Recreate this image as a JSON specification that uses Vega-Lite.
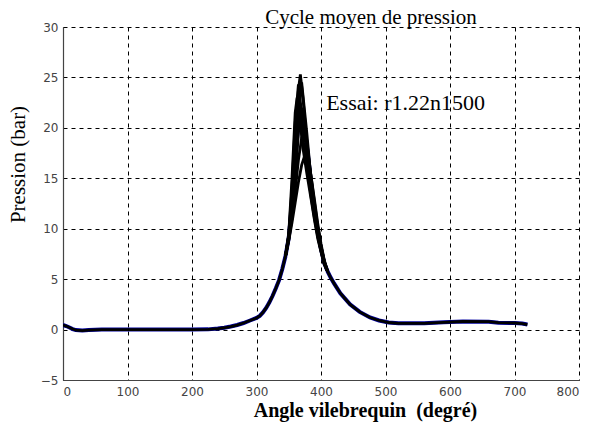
{
  "$schema": "https://vega.github.io/schema/vega-lite/v6.json",
  "width": 516,
  "height": 353,
  "autosize": {"type": "none"},
  "padding": {"left": 63, "top": 27, "right": 14, "bottom": 45},
  "background": "white",
  "title": {"text": "Cycle moyen de pression", "font": "Liberation Serif", "fontSize": 21, "fontWeight": "normal", "color": "black", "anchor": "middle", "dx": 50, "offset": -7},
  "config": {
    "view": {"stroke": null},
    "axis": {"grid": true, "gridColor": "black", "gridDash": [4, 4], "gridOpacity": 1, "gridWidth": 1, "domainColor": "#444", "domainWidth": 1.2, "ticks": false, "labelFont": "DejaVu Sans", "labelFontSize": 12, "labelColor": "#444", "titleFont": "Liberation Serif", "titleFontSize": 21, "titleFontWeight": "normal", "titleColor": "black"}
  },
  "data": {"values": [
    {"s": "L", "a": 0, "p": 0.45}, {"s": "L", "a": 5, "p": 0.35}, {"s": "L", "a": 10, "p": 0.2}, {"s": "L", "a": 15, "p": 0.05}, {"s": "L", "a": 20, "p": -0.05}, {"s": "L", "a": 30, "p": -0.1}, {"s": "L", "a": 40, "p": -0.05}, {"s": "L", "a": 60, "p": 0}, {"s": "L", "a": 100, "p": 0}, {"s": "L", "a": 150, "p": 0}, {"s": "L", "a": 200, "p": 0}, {"s": "L", "a": 225, "p": 0.02}, {"s": "L", "a": 240, "p": 0.1}, {"s": "L", "a": 250, "p": 0.18}, {"s": "L", "a": 260, "p": 0.3}, {"s": "L", "a": 270, "p": 0.45}, {"s": "L", "a": 280, "p": 0.65}, {"s": "L", "a": 290, "p": 0.9}, {"s": "L", "a": 300, "p": 1.15}, {"s": "L", "a": 305, "p": 1.35}, {"s": "L", "a": 310, "p": 1.7}, {"s": "L", "a": 315, "p": 2.15}, {"s": "L", "a": 320, "p": 2.7}, {"s": "L", "a": 325, "p": 3.35}, {"s": "L", "a": 330, "p": 4.1}, {"s": "L", "a": 335, "p": 4.9}, {"s": "L", "a": 340, "p": 6.0}, {"s": "L", "a": 345, "p": 7.3},
    {"s": "R", "a": 410, "p": 5.8}, {"s": "R", "a": 415, "p": 5.15}, {"s": "R", "a": 420, "p": 4.6}, {"s": "R", "a": 430, "p": 3.6}, {"s": "R", "a": 445, "p": 2.5}, {"s": "R", "a": 460, "p": 1.75}, {"s": "R", "a": 476, "p": 1.2}, {"s": "R", "a": 490, "p": 0.9}, {"s": "R", "a": 505, "p": 0.7}, {"s": "R", "a": 520, "p": 0.62}, {"s": "R", "a": 560, "p": 0.62}, {"s": "R", "a": 590, "p": 0.72}, {"s": "R", "a": 620, "p": 0.8}, {"s": "R", "a": 660, "p": 0.78}, {"s": "R", "a": 675, "p": 0.68}, {"s": "R", "a": 700, "p": 0.65}, {"s": "R", "a": 712, "p": 0.6}, {"s": "R", "a": 720, "p": 0.5},
    {"s": "M", "a": 345, "p": 7.3}, {"s": "M", "a": 350, "p": 9.1}, {"s": "M", "a": 355, "p": 12.4}, {"s": "M", "a": 360, "p": 17}, {"s": "M", "a": 365, "p": 20.5}, {"s": "M", "a": 370, "p": 21.3}, {"s": "M", "a": 375, "p": 19.8}, {"s": "M", "a": 380, "p": 17.2}, {"s": "M", "a": 385, "p": 14.2}, {"s": "M", "a": 390, "p": 11.7}, {"s": "M", "a": 395, "p": 9.7}, {"s": "M", "a": 400, "p": 8}, {"s": "M", "a": 405, "p": 6.6}, {"s": "M", "a": 410, "p": 5.8},
    {"s": "C1", "a": 345, "p": 7.3}, {"s": "C1", "a": 350, "p": 9.2}, {"s": "C1", "a": 355, "p": 12.5}, {"s": "C1", "a": 360, "p": 18.5}, {"s": "C1", "a": 365, "p": 23.8}, {"s": "C1", "a": 368, "p": 25.3}, {"s": "C1", "a": 372, "p": 23}, {"s": "C1", "a": 376, "p": 20}, {"s": "C1", "a": 380, "p": 17}, {"s": "C1", "a": 385, "p": 14}, {"s": "C1", "a": 390, "p": 11.5}, {"s": "C1", "a": 395, "p": 9.5}, {"s": "C1", "a": 400, "p": 7.9}, {"s": "C1", "a": 405, "p": 6.6}, {"s": "C1", "a": 410, "p": 5.8},
    {"s": "C2", "a": 345, "p": 7.3}, {"s": "C2", "a": 350, "p": 9.4}, {"s": "C2", "a": 355, "p": 14}, {"s": "C2", "a": 360, "p": 20.5}, {"s": "C2", "a": 365, "p": 24.3}, {"s": "C2", "a": 369, "p": 22}, {"s": "C2", "a": 374, "p": 18.5}, {"s": "C2", "a": 380, "p": 15.5}, {"s": "C2", "a": 385, "p": 13}, {"s": "C2", "a": 390, "p": 11}, {"s": "C2", "a": 395, "p": 9.2}, {"s": "C2", "a": 400, "p": 7.8}, {"s": "C2", "a": 405, "p": 6.5}, {"s": "C2", "a": 410, "p": 5.8},
    {"s": "C3", "a": 345, "p": 7.3}, {"s": "C3", "a": 350, "p": 9.0}, {"s": "C3", "a": 355, "p": 11.5}, {"s": "C3", "a": 360, "p": 15}, {"s": "C3", "a": 365, "p": 19.5}, {"s": "C3", "a": 370, "p": 22}, {"s": "C3", "a": 375, "p": 20.5}, {"s": "C3", "a": 380, "p": 17.5}, {"s": "C3", "a": 385, "p": 14.5}, {"s": "C3", "a": 390, "p": 12}, {"s": "C3", "a": 395, "p": 9.8}, {"s": "C3", "a": 400, "p": 8.1}, {"s": "C3", "a": 405, "p": 6.7}, {"s": "C3", "a": 410, "p": 5.8},
    {"s": "C4", "a": 345, "p": 7.3}, {"s": "C4", "a": 350, "p": 8.9}, {"s": "C4", "a": 355, "p": 11}, {"s": "C4", "a": 360, "p": 13.8}, {"s": "C4", "a": 365, "p": 16.8}, {"s": "C4", "a": 370, "p": 19}, {"s": "C4", "a": 374, "p": 19.5}, {"s": "C4", "a": 378, "p": 18.5}, {"s": "C4", "a": 382, "p": 16.5}, {"s": "C4", "a": 388, "p": 13.5}, {"s": "C4", "a": 395, "p": 10.2}, {"s": "C4", "a": 400, "p": 8.3}, {"s": "C4", "a": 405, "p": 6.8}, {"s": "C4", "a": 410, "p": 5.8},
    {"s": "C5", "a": 345, "p": 7.3}, {"s": "C5", "a": 350, "p": 8.8}, {"s": "C5", "a": 355, "p": 10.6}, {"s": "C5", "a": 360, "p": 12.6}, {"s": "C5", "a": 365, "p": 14.6}, {"s": "C5", "a": 370, "p": 16.3}, {"s": "C5", "a": 376, "p": 17.5}, {"s": "C5", "a": 380, "p": 17}, {"s": "C5", "a": 385, "p": 15}, {"s": "C5", "a": 390, "p": 12.8}, {"s": "C5", "a": 395, "p": 10.5}, {"s": "C5", "a": 400, "p": 8.5}, {"s": "C5", "a": 405, "p": 6.9}, {"s": "C5", "a": 410, "p": 5.8},
    {"s": "C6", "a": 345, "p": 7.3}, {"s": "C6", "a": 350, "p": 9.5}, {"s": "C6", "a": 355, "p": 15}, {"s": "C6", "a": 360, "p": 21.5}, {"s": "C6", "a": 363, "p": 23}, {"s": "C6", "a": 367, "p": 21}, {"s": "C6", "a": 372, "p": 18}, {"s": "C6", "a": 378, "p": 15.5}, {"s": "C6", "a": 385, "p": 12.8}, {"s": "C6", "a": 390, "p": 10.8}, {"s": "C6", "a": 395, "p": 9}, {"s": "C6", "a": 400, "p": 7.7}, {"s": "C6", "a": 405, "p": 6.5}, {"s": "C6", "a": 410, "p": 5.8},
    {"s": "C7", "a": 345, "p": 7.3}, {"s": "C7", "a": 350, "p": 9.3}, {"s": "C7", "a": 355, "p": 13}, {"s": "C7", "a": 360, "p": 18}, {"s": "C7", "a": 365, "p": 21}, {"s": "C7", "a": 368, "p": 20.5}, {"s": "C7", "a": 373, "p": 18}, {"s": "C7", "a": 380, "p": 15.8}, {"s": "C7", "a": 385, "p": 13.5}, {"s": "C7", "a": 390, "p": 11.3}, {"s": "C7", "a": 395, "p": 9.4}, {"s": "C7", "a": 400, "p": 7.9}, {"s": "C7", "a": 405, "p": 6.6}, {"s": "C7", "a": 410, "p": 5.8},
    {"s": "C8", "a": 345, "p": 7.3}, {"s": "C8", "a": 350, "p": 9.1}, {"s": "C8", "a": 355, "p": 12}, {"s": "C8", "a": 360, "p": 16.5}, {"s": "C8", "a": 365, "p": 21.5}, {"s": "C8", "a": 370, "p": 24.5}, {"s": "C8", "a": 374, "p": 22}, {"s": "C8", "a": 378, "p": 19.5}, {"s": "C8", "a": 383, "p": 16}, {"s": "C8", "a": 388, "p": 13}, {"s": "C8", "a": 395, "p": 10}, {"s": "C8", "a": 400, "p": 8.2}, {"s": "C8", "a": 405, "p": 6.7}, {"s": "C8", "a": 410, "p": 5.8}
  ]},
  "encoding": {
    "x": {"field": "a", "type": "quantitative", "scale": {"domain": [0, 800], "nice": false}, "axis": {"values": [0, 100, 200, 300, 400, 500, 600, 700, 800], "title": "Angle vilebrequin\u00a0 (degré)", "titleFontWeight": "bold", "titleFontSize": 20, "titleX": 302, "titleY": 36.5, "titleAlign": "center", "titleBaseline": "alphabetic", "labelPadding": 6}},
    "y": {"field": "p", "type": "quantitative", "scale": {"domain": [-5, 30], "nice": false}, "axis": {"values": [-5, 0, 5, 10, 15, 20, 25, 30], "title": "Pression (bar)", "titleX": -45, "titleY": 137, "titleAlign": "center", "titleBaseline": "middle", "titleAngle": -90, "labelPadding": 5}}
  },
  "layer": [
    {"transform": [{"filter": {"field": "s", "oneOf": ["L", "R", "M"]}}], "mark": {"type": "line", "color": "#0000a0", "strokeWidth": 4, "clip": true}, "encoding": {"detail": {"field": "s"}, "order": {"field": "a"}}},
    {"transform": [{"filter": {"field": "s", "oneOf": ["L", "R", "C1", "C2", "C3", "C4", "C5", "C6", "C7", "C8"]}}], "mark": {"type": "line", "color": "black", "strokeWidth": 2.8, "clip": true}, "encoding": {"detail": {"field": "s"}, "order": {"field": "a"}}},
    {"data": {"values": [{"a": 408, "p": 21.8, "t": "Essai: r1.22n1500"}]}, "mark": {"type": "text", "align": "left", "baseline": "alphabetic", "font": "Liberation Serif", "fontSize": 22, "color": "black"}, "encoding": {"text": {"field": "t"}}}
  ]
}
